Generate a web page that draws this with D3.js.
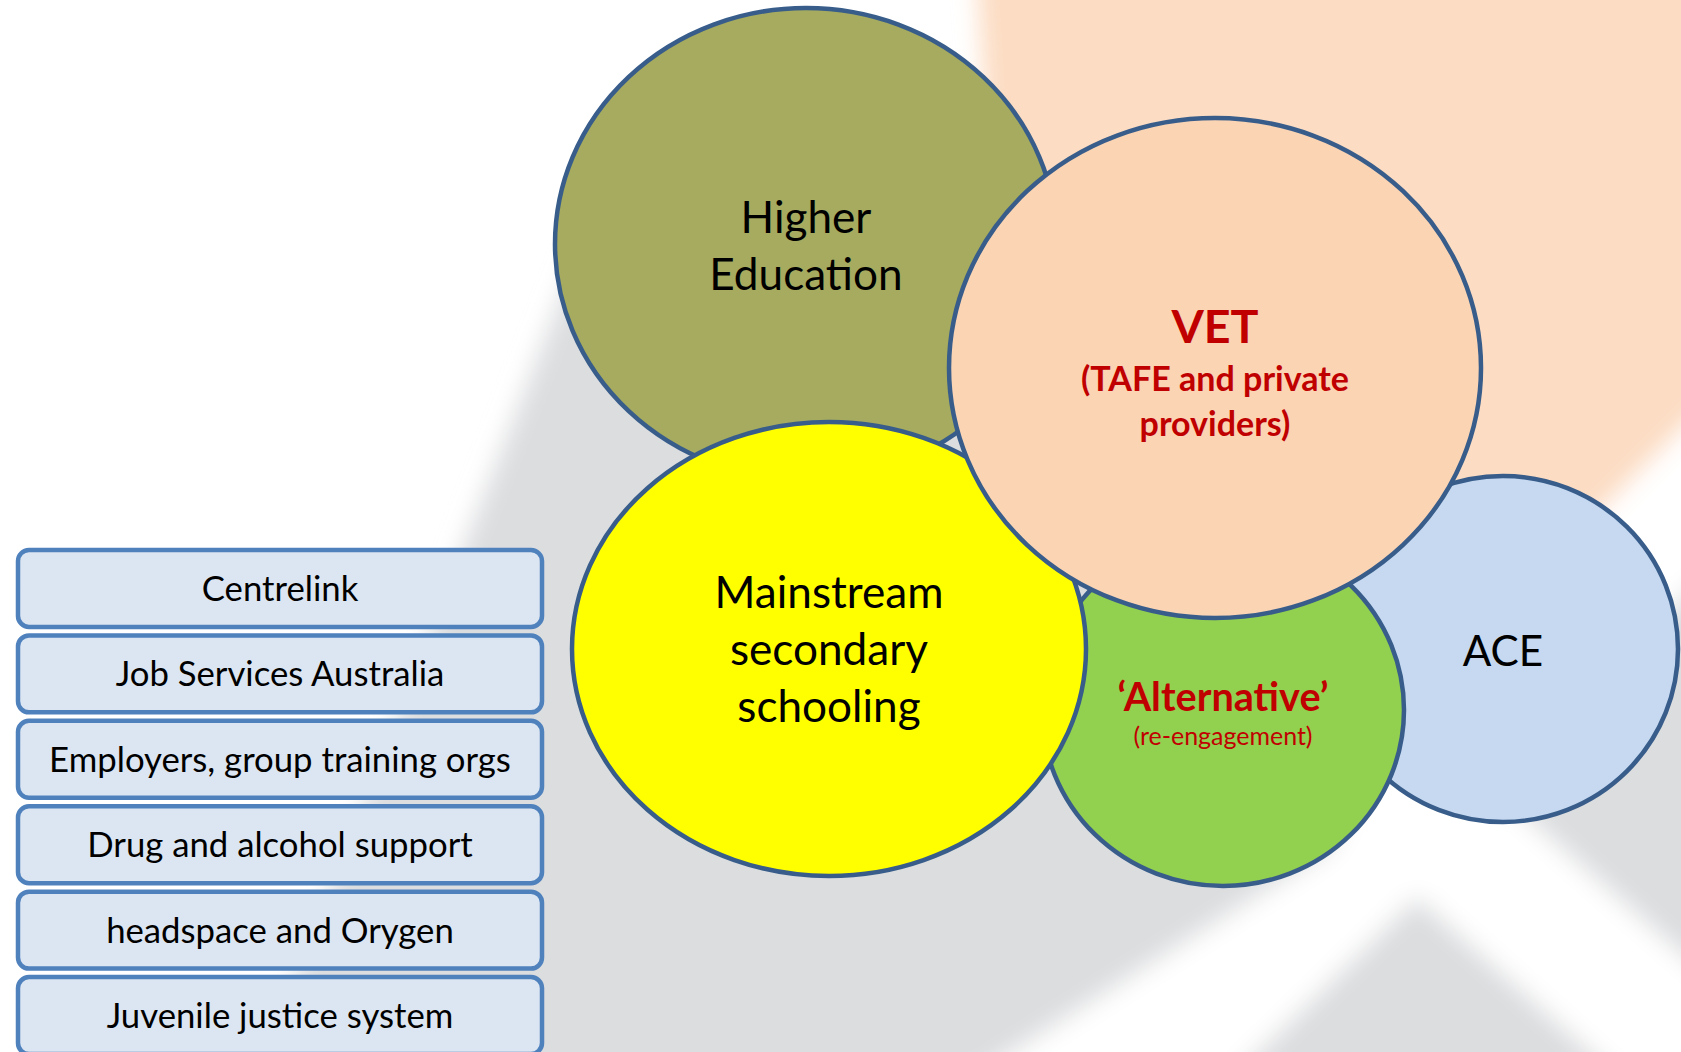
<!DOCTYPE html>
<html>
<head>
<meta charset="utf-8">
<script src="https://cdn.jsdelivr.net/npm/d3@7/dist/d3.min.js"></script>
<style>
  html, body { margin: 0; padding: 0; background: #ffffff; overflow: hidden; }
  svg { display: block; }
</style>
</head>
<body>
<svg id="chart"></svg>
<script>
// ---------------- DATA ----------------
const services = [
  "Centrelink",
  "Job Services Australia",
  "Employers, group training orgs",
  "Drug and alcohol support",
  "headspace and Orygen",
  "Juvenile justice system"
];

// sectors in drawing order (back to front)
const sectorIds = ["ace", "alternative", "higher", "mainstream", "vet"];
const sectorTitles = [
  ["ACE"],
  ["\u2018Alternative\u2019"],
  ["Higher", "Education"],
  ["Mainstream", "secondary", "schooling"],
  ["VET"]
];
const sectorSubtitles = [
  [],
  ["(re-engagement)"],
  [],
  [],
  ["(TAFE and private", "providers)"]
];

// ---------------- LAYOUT / STYLE ----------------
const W = 1681, H = 1052;
const FONT = "Lato, 'Open Sans', 'Noto Sans', sans-serif";

// design frame (px in the 1681 x 1052 picture)
const x = d3.scaleLinear().domain([0, 1681]).range([0, W]);
const y = d3.scaleLinear().domain([0, 1052]).range([0, H]);

const bubbleCx = [1503, 1223, 806, 829, 1215];
const bubbleCy = [649, 710, 244, 649, 368];
const bubbleRx = [175, 181, 251, 257, 266];
const bubbleRy = [173, 176, 236, 227, 250];
const bubbleFill = ["#C6D9F1", "#92D050", "#A6AB5F", "#FFFF00", "#FBD4B4"];
const bubbleStroke = "#385D8A";

// text styles per sector: title size/weight/colour, subtitle size/weight
const titleSize   = [45, 42.5, 47, 47, 50];
const titleWeight = [400, 700, 400, 400, 700];
const titleColor  = ["#000000", "#C00000", "#000000", "#000000", "#C00000"];
const subSize     = [0, 26.6, 0, 0, 36.5];
const subWeight   = [400, 400, 400, 400, 700];
// baseline offsets (relative to bubble centre) for titles then subtitles
const lineOffsets = [[17], [1, 35], [-11, 46], [-41, 16, 73], [-25, 23, 68]];

const boxFill = "#DCE6F2", boxStroke = "#4F81BD";
const boxLeft = 18, boxRight = 542, boxTextSize = 37;

// background watermark shapes
const bgGrey  = [[638, 100], [1760, 100], [1760, 1120], [240, 1120]];
const bgPeach = [[975, -60], [1760, -60], [1760, 400], [1450, 720], [1300, 560], [1000, 330]];
const bgWhite = [[1760, 351], [1760, 521], [1493, 788], [1760, 1023], [1760, 1120],
                 [1667, 1120], [1417, 897], [1189, 1120], [906, 1120],
                 [1330, 850], [1400, 700], [1590, 521]];

// ---------------- DRAW ----------------
const svg = d3.select("#chart").attr("width", W).attr("height", H);
const defs = svg.append("defs");
defs.append("filter").attr("id", "soft")
  .attr("x", "-20%").attr("y", "-20%").attr("width", "140%").attr("height", "140%")
  .append("feGaussianBlur").attr("stdDeviation", 12);

svg.append("rect").attr("width", W).attr("height", H).attr("fill", "#ffffff");

const line = d3.line().x(d => x(d[0])).y(d => y(d[1]));
const bg = svg.append("g").attr("filter", "url(#soft)");
bg.append("path").attr("d", line(bgGrey) + "Z").attr("fill", "#DCDDDF");
bg.append("path").attr("d", line(bgPeach) + "Z").attr("fill", "#FCDCC2");
bg.append("path").attr("d", line(bgWhite) + "Z").attr("fill", "#FFFFFF");

// font calibration (sizes above are given in Calibri-equivalent px)
function measure(str, weight) {
  const t = svg.append("text").attr("font-family", FONT).attr("font-size", 100)
    .attr("font-weight", weight).text(str);
  const w = t.node().getComputedTextLength();
  t.remove();
  return w;
}
const regK  = (462 / 37) / (measure("Employers, group training orgs", 400) / 100);
const boldK = (268 / 36.5) / (measure("(TAFE and private", 700) / 100);
const fs = (size, weight) => size * (weight >= 700 ? boldK : regK);

// bubbles
const bubbles = svg.append("g").selectAll("g")
  .data(sectorIds.map((id, i) => ({ id, i })))
  .join("g");

bubbles.append("ellipse")
  .attr("cx", d => x(bubbleCx[d.i]))
  .attr("cy", d => y(bubbleCy[d.i]))
  .attr("rx", d => x(bubbleRx[d.i]) - x(0))
  .attr("ry", d => y(bubbleRy[d.i]) - y(0))
  .attr("fill", d => bubbleFill[d.i])
  .attr("stroke", bubbleStroke)
  .attr("stroke-width", 4.5);

bubbles.each(function (d) {
  const g = d3.select(this);
  const lines = [];
  sectorTitles[d.i].forEach(t => lines.push({ t, size: titleSize[d.i], w: titleWeight[d.i], c: titleColor[d.i] }));
  sectorSubtitles[d.i].forEach(t => lines.push({ t, size: subSize[d.i], w: subWeight[d.i], c: titleColor[d.i] }));
  g.selectAll("text").data(lines).join("text")
    .attr("x", x(bubbleCx[d.i]))
    .attr("y", (l, j) => y(bubbleCy[d.i] + lineOffsets[d.i][j]))
    .attr("text-anchor", "middle")
    .attr("font-family", FONT)
    .attr("font-weight", l => l.w)
    .attr("font-size", l => fs(l.size, l.w))
    .attr("fill", l => l.c)
    .text(l => l.t);
});

// service boxes
const band = d3.scaleBand().domain(services).range([y(550), y(1054)]).paddingInner(0.1).paddingOuter(0);
const boxes = svg.append("g").selectAll("g").data(services).join("g");
boxes.append("rect")
  .attr("x", x(boxLeft))
  .attr("y", d => band(d))
  .attr("width", x(boxRight) - x(boxLeft))
  .attr("height", band.bandwidth())
  .attr("rx", 11).attr("ry", 11)
  .attr("fill", boxFill)
  .attr("stroke", boxStroke)
  .attr("stroke-width", 4.5);
boxes.append("text")
  .attr("x", (x(boxLeft) + x(boxRight)) / 2)
  .attr("y", d => band(d) + band.bandwidth() / 2 + 12.5)
  .attr("text-anchor", "middle")
  .attr("font-family", FONT)
  .attr("font-size", fs(boxTextSize, 400))
  .attr("fill", "#000000")
  .text(d => d);
</script>
</body>
</html>
